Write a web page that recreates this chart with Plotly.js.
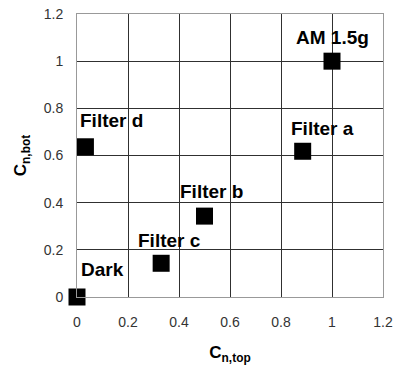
<!DOCTYPE html>
<html>
<head>
<meta charset="utf-8">
<script src="https://cdn.plot.ly/plotly-3.0.1.min.js"></script>
<style>html,body{margin:0;padding:0;background:#fff;}#chart{width:397px;height:367px;}</style>
</head>
<body>
<div id="chart"></div>
<script>
const labels = ["Dark", "Filter c", "Filter b", "Filter d", "Filter a", "AM 1.5g"];
const cnTop = [0.0, 0.33, 0.50, 0.033, 0.885, 1.0];
const cnBot = [0.0, 0.143, 0.343, 0.637, 0.618, 1.0];
const tickVals = [0, 0.2, 0.4, 0.6, 0.8, 1, 1.2];
const tickText = ["0", "0.2", "0.4", "0.6", "0.8", "1", "1.2"];
// label offsets (pixels) from each point
const labelDx = [2, -25, -27, -7, -14, -38];
const labelDy = [28, 23, 25, 26, 23, 24];

const trace = {
  x: cnTop, y: cnBot, mode: 'markers', type: 'scatter',
  marker: {symbol: 'square', size: 17, color: '#000'},
  cliponaxis: false, hoverinfo: 'none', showlegend: false
};

const annotations = labels.map((t, i) => ({
  x: cnTop[i], y: cnBot[i], xref: 'x', yref: 'y', text: '<b>' + t + '</b>',
  showarrow: false, xanchor: 'left', yanchor: 'middle',
  xshift: labelDx[i], yshift: labelDy[i],
  font: {family: 'Liberation Sans, Arial, sans-serif', size: 19, color: '#000'}
}));

const axisCommon = {
  range: [0, 1.2], tickvals: tickVals, ticktext: tickText,
  showgrid: true, gridcolor: '#303030', gridwidth: 1,
  showline: true, linecolor: '#999', linewidth: 1, mirror: true,
  zeroline: false, ticks: '',
  tickfont: {family: 'Liberation Sans, Arial, sans-serif', size: 14, color: '#333'}
};

const layout = {
  width: 397, height: 367,
  margin: {l: 77, r: 14, t: 14, b: 70},
  paper_bgcolor: '#fff', plot_bgcolor: '#fff',
  xaxis: Object.assign({}, axisCommon, {
    ticklabelstandoff: 12,
    title: {text: '<b>C<sub>n,top</sub></b>', standoff: 17,
      font: {family: 'Liberation Sans, Arial, sans-serif', size: 17, color: '#000'}}
  }),
  yaxis: Object.assign({}, axisCommon, {
    ticklabelstandoff: 10,
    title: {text: '<b>C<sub>n,bot</sub></b>', standoff: 12,
      font: {family: 'Liberation Sans, Arial, sans-serif', size: 17, color: '#000'}}
  }),
  annotations: annotations
};

Plotly.newPlot('chart', [trace], layout, {displayModeBar: false, staticPlot: true});
</script>
</body>
</html>
